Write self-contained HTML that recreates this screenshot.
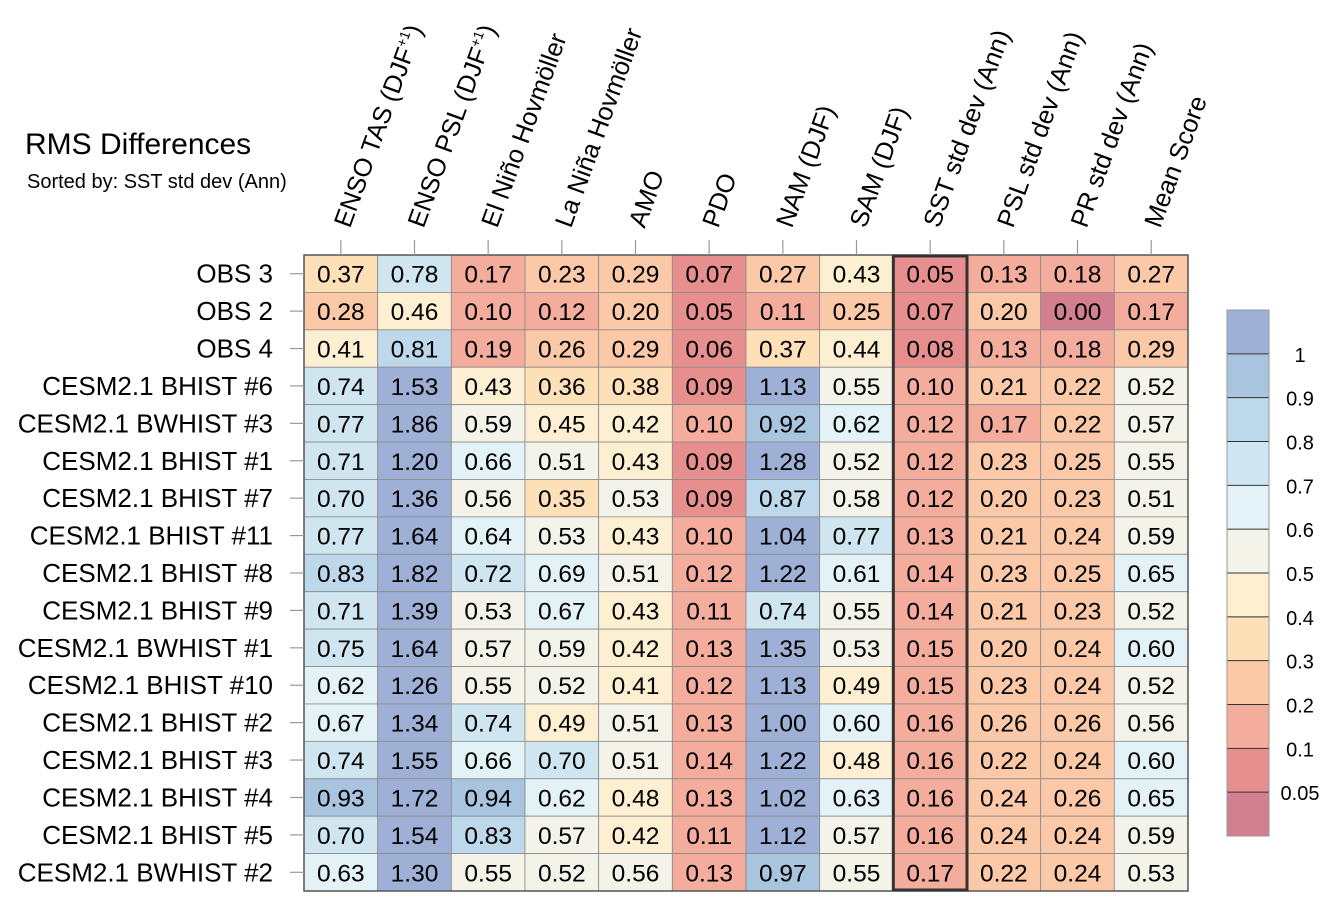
<!DOCTYPE html>
<html><head><meta charset="utf-8"><style>
html,body{margin:0;padding:0;background:#fff;}
svg{display:block;font-family:"Liberation Sans",Arial,sans-serif;}
</style></head><body>
<svg id="chart" width="1340" height="914" viewBox="0 0 1340 914" xmlns="http://www.w3.org/2000/svg">
<text x="25" y="154" font-size="30">RMS Differences</text>
<text x="27" y="188" font-size="20">Sorted by: SST std dev (Ann)</text>
<g id="cells"></g><g id="labels"></g><g id="cbar"></g>
</svg>
<script>
const columns = ["ENSO TAS (DJF+1)","ENSO PSL (DJF+1)","El Niño Hovmöller","La Niña Hovmöller","AMO","PDO","NAM (DJF)","SAM (DJF)","SST std dev (Ann)","PSL std dev (Ann)","PR std dev (Ann)","Mean Score"];
const rows = ["OBS 3","OBS 2","OBS 4","CESM2.1 BHIST #6","CESM2.1 BWHIST #3","CESM2.1 BHIST #1","CESM2.1 BHIST #7","CESM2.1 BHIST #11","CESM2.1 BHIST #8","CESM2.1 BHIST #9","CESM2.1 BWHIST #1","CESM2.1 BHIST #10","CESM2.1 BHIST #2","CESM2.1 BHIST #3","CESM2.1 BHIST #4","CESM2.1 BHIST #5","CESM2.1 BWHIST #2"];
const values = [
[0.37,0.78,0.17,0.23,0.29,0.07,0.27,0.43,0.05,0.13,0.18,0.27],
[0.28,0.46,0.10,0.12,0.20,0.05,0.11,0.25,0.07,0.20,0.00,0.17],
[0.41,0.81,0.19,0.26,0.29,0.06,0.37,0.44,0.08,0.13,0.18,0.29],
[0.74,1.53,0.43,0.36,0.38,0.09,1.13,0.55,0.10,0.21,0.22,0.52],
[0.77,1.86,0.59,0.45,0.42,0.10,0.92,0.62,0.12,0.17,0.22,0.57],
[0.71,1.20,0.66,0.51,0.43,0.09,1.28,0.52,0.12,0.23,0.25,0.55],
[0.70,1.36,0.56,0.35,0.53,0.09,0.87,0.58,0.12,0.20,0.23,0.51],
[0.77,1.64,0.64,0.53,0.43,0.10,1.04,0.77,0.13,0.21,0.24,0.59],
[0.83,1.82,0.72,0.69,0.51,0.12,1.22,0.61,0.14,0.23,0.25,0.65],
[0.71,1.39,0.53,0.67,0.43,0.11,0.74,0.55,0.14,0.21,0.23,0.52],
[0.75,1.64,0.57,0.59,0.42,0.13,1.35,0.53,0.15,0.20,0.24,0.60],
[0.62,1.26,0.55,0.52,0.41,0.12,1.13,0.49,0.15,0.23,0.24,0.52],
[0.67,1.34,0.74,0.49,0.51,0.13,1.00,0.60,0.16,0.26,0.26,0.56],
[0.74,1.55,0.66,0.70,0.51,0.14,1.22,0.48,0.16,0.22,0.24,0.60],
[0.93,1.72,0.94,0.62,0.48,0.13,1.02,0.63,0.16,0.24,0.26,0.65],
[0.70,1.54,0.83,0.57,0.42,0.11,1.12,0.57,0.16,0.24,0.24,0.59],
[0.63,1.30,0.55,0.52,0.56,0.13,0.97,0.55,0.17,0.22,0.24,0.53]];
const levels = [0.05,0.1,0.2,0.3,0.4,0.5,0.6,0.7,0.8,0.9,1];
const levelLabels = ["0.05","0.1","0.2","0.3","0.4","0.5","0.6","0.7","0.8","0.9","1"];
const highlightColumn = 8;
const palette = ["#d27f90","#e78f8f","#f4ac9c","#fbc8a8","#fddfb8","#fdefd1","#f3f3e9","#e3f2f6","#cfe6f0","#bcd8ea","#a9c4de","#9fb0d6"];

const NS="http://www.w3.org/2000/svg";
const X0=304, Y0=255, W=884, H=636;
const cw=W/columns.length, rh=H/rows.length;
const xPos=i=>X0+i*cw, yPos=j=>Y0+j*rh;
function colorFor(v){let k=0;while(k<levels.length&&v>=levels[k]-1e-9)k++;return palette[k];}
function mk(tag,attrs,parent){const e=document.createElementNS(NS,tag);for(const a in attrs)e.setAttribute(a,attrs[a]);parent.appendChild(e);return e;}
const gc=document.getElementById('cells'), gl=document.getElementById('labels'), gb=document.getElementById('cbar');

rows.forEach((r,j)=>{
  columns.forEach((c,i)=>{
    const v=values[j][i];
    const rect=mk('rect',{x:xPos(i),y:yPos(j),width:cw,height:rh,fill:colorFor(v),stroke:'#8a8a8a','stroke-width':0.8},gc);
    
    
    const t=mk('text',{x:xPos(i)+cw/2,y:yPos(j)+rh/2+9,'font-size':24.5,'text-anchor':'middle',fill:'#000'},gc);
    t.textContent=v.toFixed(2);
    
    
  });
  const tk=mk('line',{x1:X0-14,x2:X0,y1:yPos(j)+rh/2,y2:yPos(j)+rh/2,stroke:'#999','stroke-width':1.2},gl);
  
  
  const rl=mk('text',{x:273,y:yPos(j)+rh/2+9,'font-size':26,'text-anchor':'end'},gl);
  rl.textContent=r;
  
  
});
const border=mk('rect',{x:X0,y:Y0,width:W,height:H,fill:'none',stroke:'#555','stroke-width':1.5},gc);


const hl=mk('rect',{x:xPos(highlightColumn),y:Y0+1,width:cw,height:H-2,fill:'none',stroke:'#333','stroke-width':3},gc);



columns.forEach((c,i)=>{
  const cx=xPos(i)+cw/2;
  const tk=mk('line',{x1:cx,x2:cx,y1:Y0-15,y2:Y0,stroke:'#999','stroke-width':1.2},gl);
  
  
  const t=mk('text',{x:0,y:0,'font-size':25.5,transform:`translate(${cx+9},${Y0-26}) rotate(-70)`},gl);
  
  
  if(c.indexOf('+1')>=0){
    const parts=c.split('+1');
    const a=mk('tspan',{},t);a.textContent=parts[0];
    const s=mk('tspan',{'font-size':14,dy:-10},t);s.textContent='+1';
    const b=mk('tspan',{dy:10},t);b.textContent=parts[1];
  } else t.textContent=c;
});

// colorbar
const CBX=1227, CBY=310, CBW=42, CBH=526, n=palette.length, bh=CBH/n;
for(let k=0;k<n;k++){
  const r=mk('rect',{x:CBX,y:CBY+(n-1-k)*bh,width:CBW,height:bh,fill:palette[k],stroke:'none'},gb);
  
  
}
levels.forEach((lv,k)=>{
  const y=CBY+(n-1-k)*bh;
  const l=mk('line',{x1:CBX,x2:CBX+CBW,y1:y,y2:y,stroke:'#333','stroke-width':1},gb);
  
  
  const t=mk('text',{x:1300,y:y+8,'font-size':20,'text-anchor':'middle'},gb);
  t.textContent=levelLabels[k];
  
  
});
const cbb=mk('rect',{x:CBX,y:CBY,width:CBW,height:CBH,fill:'none',stroke:'#999','stroke-width':1},gb);


</script>
</body></html>
